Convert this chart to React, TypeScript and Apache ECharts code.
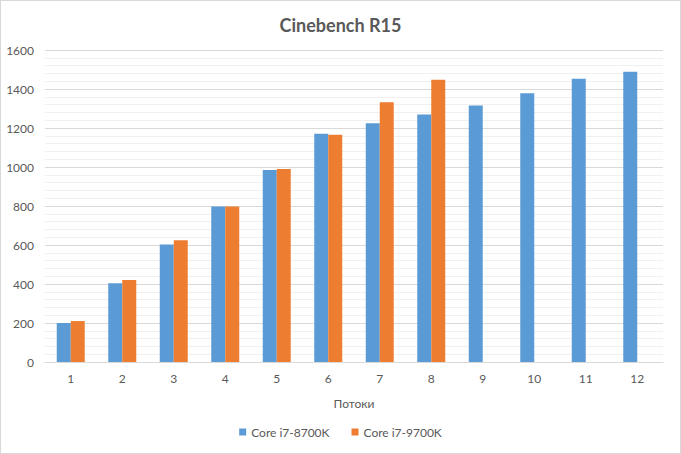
import React, { useEffect, useRef } from "react";
import * as echarts from "echarts";

const categories = ["1", "2", "3", "4", "5", "6", "7", "8", "9", "10", "11", "12"];
const seriesNames = ["Core i7-8700K", "Core i7-9700K"];
const i7_8700K = [200, 404, 603, 798, 985, 1170, 1225, 1269, 1315, 1378, 1452, 1488];
const i7_9700K = [210, 420, 625, 798, 990, 1165, 1332, 1447, null, null, null, null];
const colors = ["#5b9bd5", "#ed7d31"];
const font = "Lato, 'Open Sans', sans-serif";

export default function App() {
  const ref = useRef<HTMLDivElement>(null);
  useEffect(() => {
    const chart = echarts.init(ref.current!, null, { renderer: "svg" });
    chart.setOption({
      animation: false,
      backgroundColor: "#ffffff",
      title: {
        text: "Cinebench R15",
        left: "center",
        top: 10,
        textStyle: { color: "#595959", fontSize: 18, fontWeight: "bold", fontFamily: font },
      },
      legend: {
        bottom: 10,
        left: "center",
        itemWidth: 7,
        itemHeight: 7,
        itemGap: 22,
        icon: "rect",
        textStyle: { color: "#595959", fontSize: 12, fontFamily: font },
        data: seriesNames,
      },
      grid: { left: 44, right: 17, top: 49, bottom: 91 },
      xAxis: {
        type: "category",
        data: categories,
        name: "Потоки",
        nameLocation: "middle",
        nameGap: 35,
        nameTextStyle: { color: "#595959", fontSize: 12, fontFamily: font },
        axisLine: { lineStyle: { color: "#d9d9d9" } },
        axisTick: { show: false },
        axisLabel: { color: "#595959", fontSize: 12, margin: 10, fontFamily: font },
      },
      yAxis: {
        type: "value",
        min: 0,
        max: 1600,
        interval: 200,
        axisLine: { show: false },
        axisTick: { show: false },
        axisLabel: {
          color: "#595959",
          fontSize: 12,
          margin: 11,
          fontFamily: font,
          formatter: (v: number) => String(v),
        },
        splitLine: { lineStyle: { color: "#d9d9d9" } },
        minorTick: { show: false, splitNumber: 5 },
        minorSplitLine: { show: true, lineStyle: { color: "#f0f0f0" } },
      },
      series: [
        {
          name: seriesNames[0],
          type: "bar",
          data: i7_8700K,
          itemStyle: { color: colors[0] },
          barWidth: 14,
          barGap: "0%",
        },
        {
          name: seriesNames[1],
          type: "bar",
          data: i7_9700K,
          itemStyle: { color: colors[1] },
          barWidth: 14,
          barGap: "0%",
        },
      ],
    });
    return () => chart.dispose();
  }, []);
  return (
    <div
      ref={ref}
      style={{
        position: "fixed",
        left: 0,
        top: 0,
        width: 681,
        height: 454,
        boxSizing: "border-box",
        border: "1px solid #d9d9d9",
      }}
    />
  );
}
